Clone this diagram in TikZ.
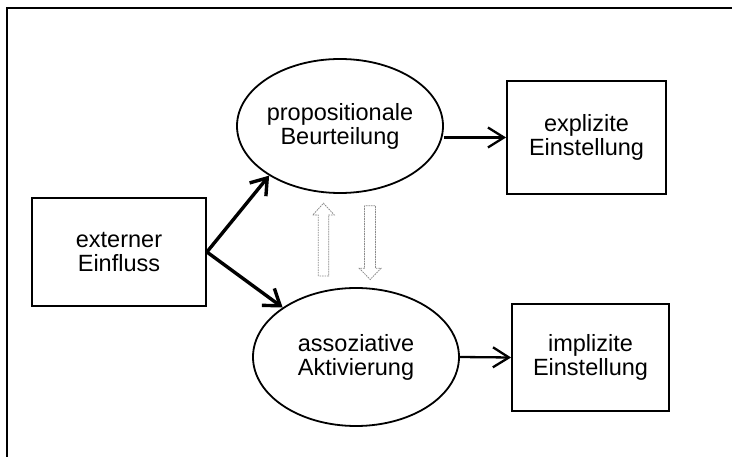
\documentclass[tikz,border=0pt]{standalone}
\usepackage{fontspec}
\setmainfont{Liberation Sans}
\usetikzlibrary{shapes.geometric,arrows.meta}
\begin{document}
\begin{tikzpicture}[x=1pt,y=-1pt,
  lbl/.style={font=\fontsize{23.5}{24}\selectfont, align=center, inner sep=0pt},
  boxnode/.style={draw, line width=1.8pt, minimum width=#1, inner sep=0pt},
  oval/.style={ellipse, draw, line width=1.8pt, minimum width=206pt, minimum height=134pt, inner sep=0pt},
  boldlink/.style={line width=3.4pt, -{Straight Barb[length=15pt,width=21pt]}},
  thinlink/.style={line width=2.3pt, -{Straight Barb[length=16pt,width=20pt]}},
  blockarrow/.style={draw=black!45, fill=white, line width=0.8pt, dash pattern=on 1.6pt off 0.9pt}
]
\useasboundingbox (0,0) rectangle (732,457);

% outer frame (only the top and left edges fall inside the page)
\draw[line width=2pt] (7,457) -- (7,8) -- (732,8);

% boxes
\node[boxnode=174pt, minimum height=108pt] (ext) at (119,252) {};
\node[lbl] (extT) at (ext) {externer\\Einfluss};
\node[boxnode=159pt, minimum height=113pt] (expl) at (586.5,137.5) {};
\node[lbl] (explT) at (expl) {explizite\\Einstellung};
\node[boxnode=157pt, minimum height=107pt] (impl) at (590.5,357.5) {};
\node[lbl] (implT) at (impl) {implizite\\Einstellung};

% ellipses
\node[oval] (prop) at (340,126) {};
\node[lbl] (propT) at (prop) {propositionale\\Beurteilung};
\node[oval, minimum height=138pt] (assoc) at (356,357) {};
\node[lbl] (assocT) at (assoc) {assoziative\\Aktivierung};

% connectors
\draw[boldlink] (ext.east) -- (prop.215);
\draw[boldlink] (ext.east) -- (assoc.146);
\draw[thinlink] (expl.west -| prop.east) -- (expl.west);
\draw[thinlink] (assoc.east) -- (impl.west);

% hollow block arrows between the two processes
\draw[blockarrow] (318.3,276) -- (318.3,215) -- (312.7,215) -- (323.5,203.3)
  -- (334.3,215) -- (328.7,215) -- (328.7,276) -- cycle;
\draw[blockarrow] (364.5,205.7) -- (364.5,268.3) -- (359.3,268.3) -- (370.2,279.5)
  -- (381,268.3) -- (375.5,268.3) -- (375.5,205.7) -- cycle;
\end{tikzpicture}
\end{document}
